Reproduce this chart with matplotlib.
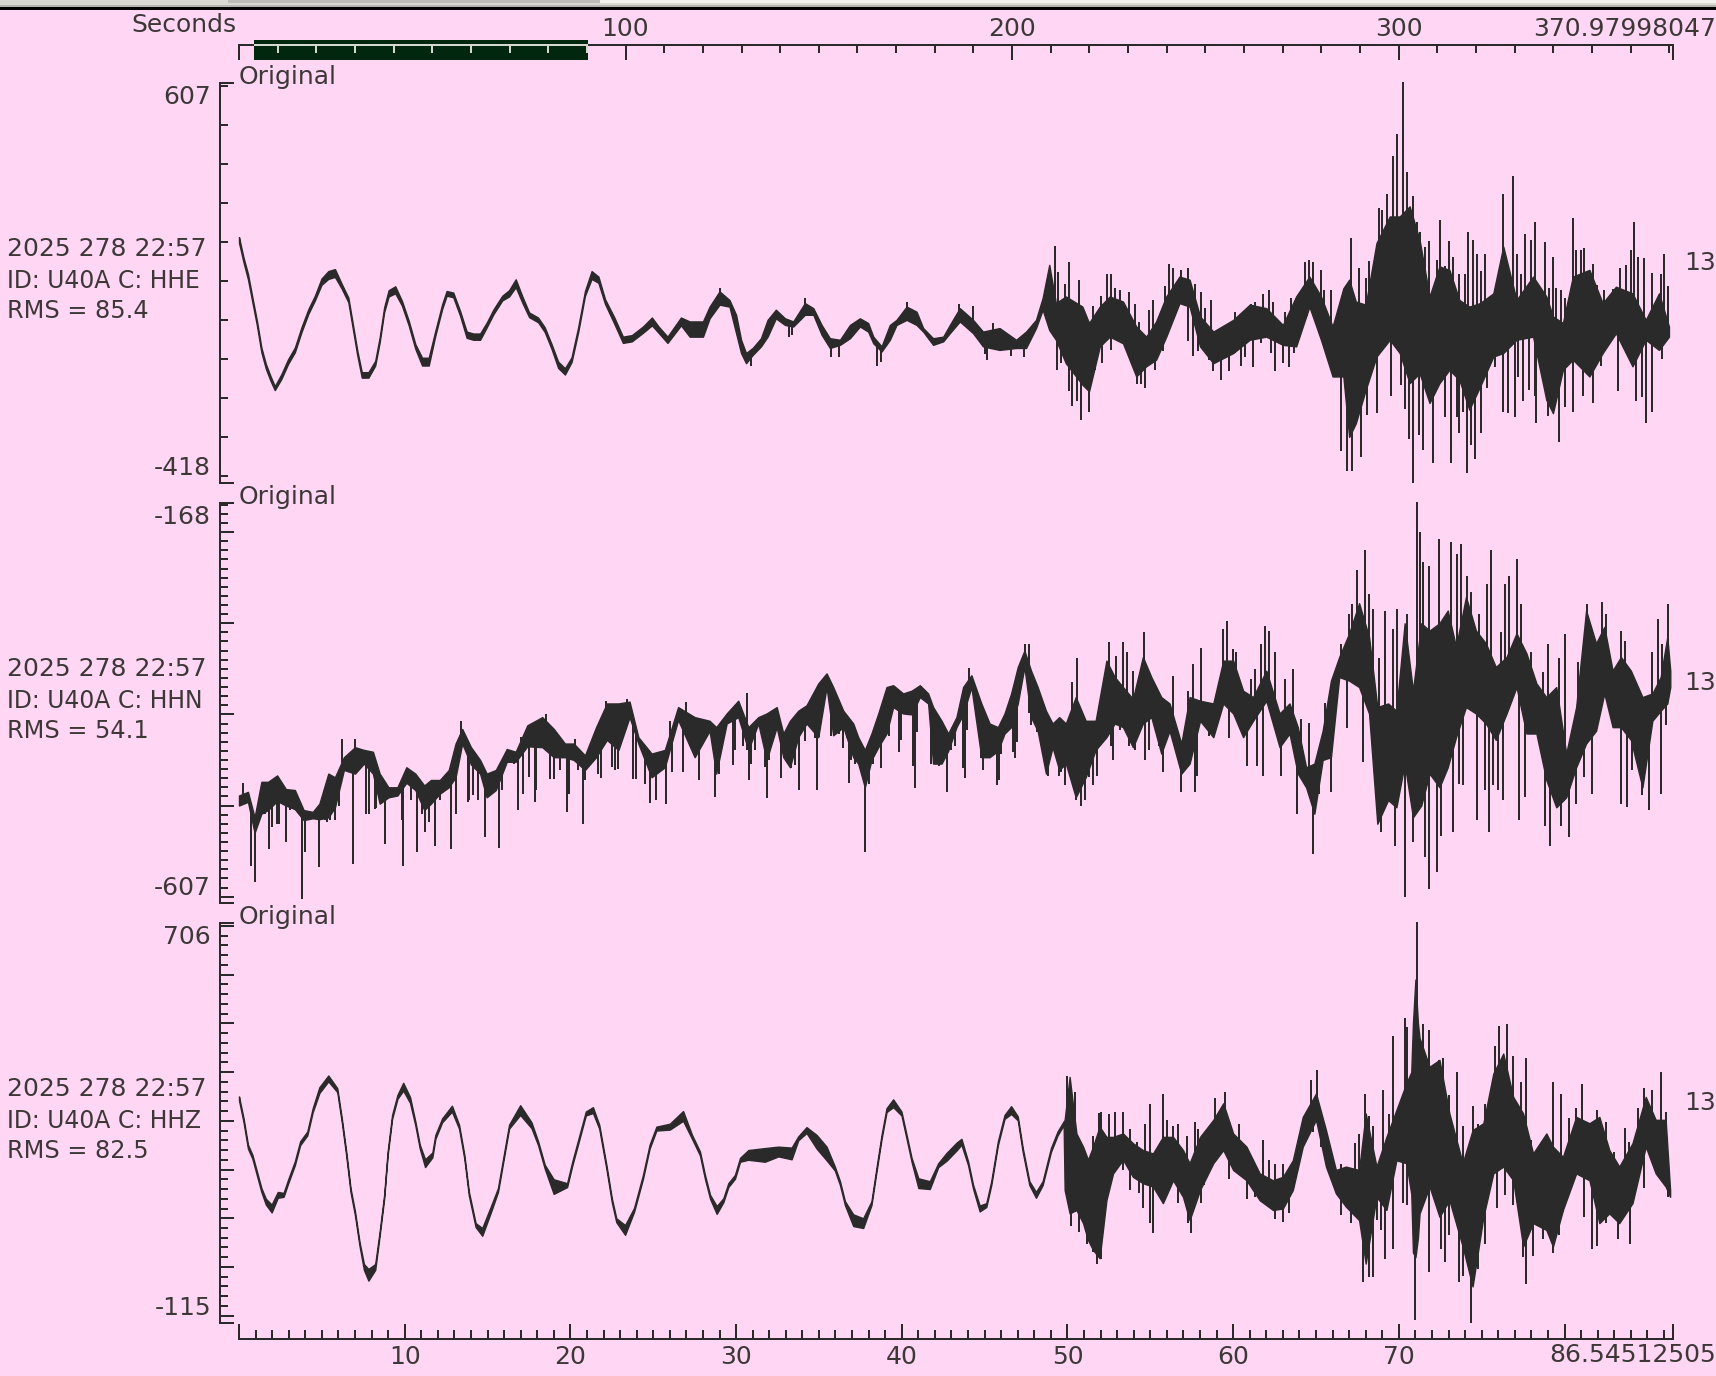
import matplotlib
matplotlib.use("Agg")
import matplotlib.pyplot as plt
from matplotlib.patches import Rectangle
import numpy as np

W, H = 1716, 1376
PINK = "#ffd6f3"
INK = "#2a2a2a"
TXT = "#3c3838"
GREEN = "#02270f"
PALE = "#d5d8d0"

# traces: (seconds, lower edge, upper edge) of the solid band
hhe_band = [(0, 198, 212), (.27, 148, 160), (.54, 104, 118), (.81, 45, 57), (1.08, -14, -2), (1.35, -83, -71),
    (1.62, -125, -113), (1.89, -155, -143), (2.16, -180, -170), (2.56, -151, -139), (2.96, -113, -101), (3.37, -83, -71),
    (3.77, -31, -19), (4.18, 15, 27), (4.58, 50, 62), (4.98, 90, 106), (5.39, 105, 125), (5.79, 110, 130), (6.2, 80, 92),
    (6.6, 45, 57), (6.87, -23, -11), (7.14, -91, -79), (7.41, -148, -134), (7.81, -148, -134), (8.22, -117, -105),
    (8.49, -57, -45), (8.76, 20, 32), (9.03, 60, 76), (9.43, 68, 86), (9.83, 37, 49), (10.24, -14, -2), (10.64, -74, -62),
    (11.05, -117, -97), (11.45, -117, -97), (11.85, -40, -28), (12.26, 28, 40), (12.53, 62, 74), (12.93, 58, 70),
    (13.34, 11, 23), (13.74, -46, -30), (14.14, -51, -35), (14.55, -51, -35), (14.95, -19, -7), (15.36, 15, 27),
    (15.89, 50, 62), (16.3, 60, 76), (16.7, 84, 104), (17.11, 43, 59), (17.51, 7, 19), (18.05, -6, 6), (18.45, -31, -19),
    (18.86, -74, -62), (19.26, -123, -107), (19.67, -140, -124), (20.07, -108, -96), (20.47, -31, -19), (20.88, 62, 74),
    (21.28, 105, 125), (21.69, 95, 111), (22.09, 41, 53), (22.63, -8, 8), (23.17, -59, -43), (23.71, -55, -39),
    (24.38, -33, -17), (24.92, -14, 6), (25.32, -33, -17), (25.86, -59, -43), (26.67, -14, 6), (27.2, -43, -4),
    (28.0, -43, -4), (28.4, 4, 34), (29.0, 39, 73), (29.6, 34, 51), (30.0, -34, 13), (30.3, -85, -51), (30.6, -111, -85),
    (31.0, -90, -72), (31.5, -68, -47), (31.9, -43, 0), (32.4, 4, 26), (32.95, -13, 4), (33.45, -17, -4), (34.15, 13, 43),
    (34.66, 13, 30), (35.16, -38, -13), (35.66, -72, -47), (36.27, -64, -51), (36.87, -47, -13), (37.47, -17, 4),
    (37.97, -30, -8), (38.28, -60, -43), (38.78, -81, -68), (39.28, -51, -13), (39.68, -13, 0), (40.29, 0, 34),
    (40.89, -13, 21), (41.29, -30, -21), (41.89, -64, -47), (42.5, -55, -43), (42.9, -34, -13), (43.5, -4, 30),
    (44.3, -34, 0), (44.9, -68, -30), (45.9, -77, -21), (46.9, -72, -51), (47.5, -72, -30), (48.1, -21, 0), (48.5, 26, 56),
    (48.9, -26, 141), (49.3, -51, 43), (49.9, -111, 60), (50.9, -166, 34), (51.3, -183, -8), (51.95, -68, 34),
    (52.55, -43, 60), (53.35, -60, 47), (54.15, -145, -17), (54.75, -119, -43), (55.35, -102, -4), (55.96, -43, 60),
    (56.76, 43, 111), (57.37, 34, 103), (58.0, -68, 9), (58.8, -111, -30), (60.0, -85, 0), (61.0, -51, 39), (62.0, -43, 30),
    (63.0, -64, -13), (63.8, -68, 60), (64.6, 34, 111), (65.3, -51, 60), (66.0, -145, -17), (66.65, -145, 81),
    (67.0, -300, 103), (67.4, -265, 47), (68.0, -179, 39), (68.65, -94, 197), (69.45, -51, 265), (70.05, -85, 265),
    (70.65, -162, 291), (71.25, -137, 205), (71.85, -213, 60), (72.45, -162, 137), (73.05, -128, 128), (73.65, -154, 51),
    (74.25, -230, 34), (74.9, -171, 43), (75.7, -94, 68), (76.3, -85, 188), (77.1, -51, 51), (78.1, -43, 111),
    (78.9, -205, 60), (79.3, -239, 9), (79.9, -128, -8), (80.5, -102, 111), (81.5, -145, 128), (82.3, -85, 43),
    (83.1, -34, 85), (84.1, -119, 68), (84.9, -51, 0), (85.7, -77, 68), (86.3, -43, -17)]

# single spikes standing out of the band: (seconds, value)
hhe_spikes = [(29.0, 81), (33.2, -45), (33.4, -40), (30.9, -118), (34.15, 56), (35.7, -96), (36.2, -96), (38.5, -118),
    (38.74, -107), (40.3, 46), (43.44, 41), (44.3, 36), (45.0, -87), (45.13, -102), (45.5, -7), (46.58, -92), (47.4, -96),
    (49.23, 190), (49.45, 123), (49.83, 92), (50.07, 149), (50.68, 103), (51.52, 36), (52.0, 62), (52.36, 118), (52.6, 118),
    (52.85, 82), (53.2, 77), (53.7, 72), (54.05, 41), (54.3, -5), (54.9, 26), (55.15, 51), (55.87, 87), (56.1, 144),
    (56.35, 133), (56.83, 128), (57.3, 133), (57.67, 92), (58.03, 72), (49.35, -128), (49.6, -111), (50.07, -183),
    (50.3, -220), (50.55, -209), (50.8, -256), (51.28, -235), (51.64, -128), (52.1, -111), (52.6, -77), (52.97, -51),
    (53.33, -55), (54.17, -164), (54.42, -164), (54.65, -174), (55.26, -128), (55.74, -81), (57.3, -55), (57.55, -92),
    (57.9, -81), (58.27, -81), (67.1, 209), (67.6, 133), (68.0, 107), (68.2, 150), (68.8, 286), (69.0, 282), (69.27, 323),
    (69.63, 420), (69.87, 477), (70.23, 610), (70.47, 379), (70.83, 318), (71.07, 251), (71.3, 226), (71.55, 188),
    (71.8, 201), (72.28, 154), (72.5, 256), (73.0, 201), (72.76, 138), (73.25, 160), (73.6, 118), (73.97, 118), (74.2, 226),
    (74.45, 205), (74.7, 169), (75.2, 169), (74.93, 124), (76.26, 323), (76.86, 369), (77.1, 169), (77.35, 118), (77.6, 220),
    (77.95, 205), (78.2, 251), (78.8, 200), (79.28, 160), (79.05, 81), (79.5, 81), (79.76, 77), (80.0, 56), (80.48, 261),
    (80.72, 180), (80.97, 180), (81.2, 184), (81.7, 144), (81.93, 90), (82.4, 77), (82.9, 79), (83.37, 133), (83.73, 141),
    (84.0, 180), (84.2, 251), (84.46, 162), (84.8, 158), (85.3, 120), (85.8, 118), (86.03, 169), (86.27, 87),
    (58.77, -132), (59.25, -154), (59.74, -132), (60.46, -117), (61.2, -122), (62.5, -132), (63.36, -122), (63.7, -85),
    (66.5, -337), (66.86, -388), (67.2, -388), (67.7, -352), (68.06, -245), (68.67, -239), (69.5, -194), (70.1, -168),
    (70.35, -229), (70.6, -306), (70.84, -418), (71.2, -294), (71.44, -333), (71.68, -188), (72.04, -367), (72.76, -249),
    (73.13, -367), (73.5, -249), (73.6, -290), (73.85, -235), (74.1, -393), (74.33, -320), (74.57, -357), (74.93, -290),
    (75.3, -175), (75.78, -122), (76.26, -235), (76.6, -239), (77.0, -249), (77.2, -147), (77.47, -209), (77.83, -179),
    (78.3, -265), (78.2, -196), (79.03, -247), (79.64, -312), (80.0, -224), (80.48, -235), (81.1, -194), (81.7, -213),
    (82.17, -117), (83.25, -183), (84.34, -209), (84.7, -198), (84.94, -265), (85.3, -235), (85.9, -101),
    (58.3, 30), (58.65, 51), (60.1, 20), (60.46, 13), (61.07, 41), (61.3, 45), (61.8, 66), (62.15, 77), (62.4, 45), (63.1, 20),
    (63.48, 56), (64.32, 148), (64.56, 154), (64.8, 148), (65.28, 128), (65.5, 77), (65.9, 77), (66.37, 30), (58.27, -81),
    (58.53, -102), (60.1, -85), (60.7, -94), (61.67, -60), (62.27, -85), (63.0, -111), (64.2, -17), (64.44, 9), (64.68, 30),
    (65.4, -55), (65.65, -68), (66.25, -145)]

hhn_band = [(0, -500, -489), (.54, -496, -485), (.94, -530, -513), (1.35, -509, -474), (1.75, -505, -474), (2.3, -495, -467),
    (2.83, -500, -482), (3.37, -504, -483), (3.9, -516, -505), (4.45, -514, -507), (4.85, -515, -498), (5.39, -513, -465),
    (5.79, -502, -469), (6.33, -461, -447), (7.0, -465, -436), (7.54, -454, -439), (8.08, -465, -441), (8.49, -498, -465),
    (9.02, -491, -480), (9.56, -489, -480), (10.1, -475, -458), (10.64, -483, -465), (11.18, -505, -478), (11.58, -498, -472),
    (12.12, -487, -472), (12.66, -480, -461), (13.07, -469, -432), (13.47, -432, -416), (14.0, -455, -436), (14.55, -465, -450),
    (14.95, -491, -465), (15.5, -483, -461), (16.16, -452, -438), (16.7, -452, -441), (17.4, -435, -412), (18.3, -436, -403),
    (19.0, -447, -416), (19.67, -447, -432), (20.2, -450, -432), (20.88, -461, -445), (21.55, -447, -414), (22.2, -428, -388),
    (22.9, -439, -388), (23.57, -403, -386), (24.1, -432, -425), (24.9, -469, -443), (25.7, -458, -439), (26.5, -406, -392),
    (27.5, -447, -403), (28.4, -418, -407), (28.8, -465, -414), (29.43, -410, -399), (30.13, -403, -385), (30.74, -439, -414),
    (31.34, -410, -403), (31.84, -450, -399), (32.45, -414, -392), (32.85, -447, -421), (33.25, -458, -407), (33.75, -425, -396),
    (34.25, -410, -390), (34.96, -425, -366), (35.46, -370, -355), (35.86, -423, -370), (36.47, -414, -396), (37.07, -447, -410),
    (37.37, -454, -425), (37.77, -480, -439), (38.17, -450, -421), (38.58, -436, -399), (39.08, -421, -370), (39.48, -392, -368),
    (40.08, -399, -377), (40.59, -400, -374), (41.09, -381, -368), (41.59, -388, -377), (41.89, -454, -392), (42.4, -454, -407),
    (42.8, -440, -421), (43.3, -414, -403), (43.7, -400, -370), (44.2, -370, -357), (44.8, -447, -388), (45.3, -447, -410),
    (45.8, -440, -414), (46.2, -421, -399), (46.6, -414, -377), (47.0, -388, -348), (47.4, -348, -330), (47.8, -403, -352),
    (48.2, -418, -370), (48.7, -465, -396), (49.1, -436, -410), (49.5, -461, -403), (49.9, -454, -410), (50.5, -491, -381),
    (51.1, -469, -407), (51.7, -439, -407), (52.35, -425, -341), (52.85, -410, -359), (53.35, -414, -370), (53.95, -436, -383),
    (54.55, -410, -337), (55.06, -403, -359), (55.66, -443, -381), (56.16, -418, -388), (56.87, -465, -432), (57.37, -454, -381),
    (58.0, -407, -385), (58.8, -425, -388), (59.4, -388, -341), (60.0, -399, -341), (60.6, -425, -374), (61.2, -407, -381),
    (62.0, -385, -352), (62.8, -436, -399), (63.4, -421, -388), (63.9, -465, -414), (64.4, -480, -458), (64.9, -509, -454),
    (65.4, -450, -418), (65.9, -447, -363), (66.4, -359, -337), (67.0, -363, -311), (67.6, -370, -278), (68.2, -399, -315),
    (68.7, -520, -392), (69.35, -494, -388), (69.85, -502, -396), (70.35, -454, -300), (70.85, -513, -374), (71.35, -500, -300),
    (71.85, -465, -308), (72.45, -480, -300), (72.95, -458, -286), (73.45, -425, -326), (74.05, -392, -271), (74.65, -399, -308),
    (75.25, -410, -322), (75.85, -428, -348), (76.5, -399, -337), (77.1, -370, -311), (77.7, -421, -333), (78.3, -421, -366),
    (78.9, -472, -381), (79.5, -502, -370), (80.1, -491, -443), (80.7, -458, -392), (81.3, -432, -286), (81.9, -418, -322),
    (82.4, -377, -304), (82.9, -414, -352), (83.4, -414, -337), (84.0, -428, -352), (84.7, -480, -381), (85.3, -407, -377),
    (85.8, -396, -359), (86.2, -388, -315), (86.38, -370, -352)]

hhn_spikes = [(.73, -566), (.97, -584), (1.8, -548), (2.3, -520), (2.83, -540), (3.83, -603), (3.99, -551), (4.82, -568),
    (5.3, -518), (5.79, -516), (6.87, -564), (7.84, -509), (8.24, -503), (8.81, -542), (9.89, -566), (10.75, -551),
    (11.23, -529), (11.83, -544), (12.8, -548), (13.8, -496), (14.14, -489), (14.84, -535), (15.7, -547), (16.84, -505),
    (17.16, -487), (17.86, -496), (18.78, -471), (19.8, -507), (20.77, -520), (21.82, -470), (22.7, -461), (23.8, -471),
    (24.8, -497), (25.8, -498), (26.8, -463), (.27, -475), (6.2, -427), (7.0, -427), (13.4, -407), (17.0, -425), (18.5, -400),
    (20.3, -427), (22.15, -385), (23.44, -383), (27.0, -386), (26.0, -407), (30.66, -376), (47.42, -323), (47.66, -323),
    (44.04, -349), (50.56, -338), (50.3, -365), (52.5, -321), (52.93, -336), (53.33, -321), (53.57, -332), (53.93, -352),
    (54.6, -310), (56.35, -358), (57.3, -374), (57.55, -345), (58.03, -327), (27.76, -472), (28.73, -491), (29.8, -455),
    (30.78, -472), (31.86, -492), (32.7, -470), (33.3, -459), (33.8, -483), (34.88, -483), (36.8, -475), (37.77, -551),
    (38.0, -476), (38.74, -459), (40.79, -481), (41.75, -454), (42.72, -485), (43.8, -470), (44.9, -461), (45.73, -477),
    (48.83, -468), (49.83, -477), (50.5, -494), (50.8, -501), (51.04, -494), (51.52, -477), (51.76, -468), (52.73, -450),
    (54.05, -439), (54.65, -450), (55.74, -463), (56.83, -485), (57.67, -485), (58.05, -328), (59.38, -306), (59.62, -297),
    (59.98, -328), (60.2, -332), (61.07, -361), (61.3, -350), (61.67, -323), (61.9, -303), (62.15, -308), (62.5, -332),
    (63.1, -361), (63.6, -350), (64.08, -405), (64.57, -409), (65.53, -387), (66.49, -323), (66.97, -290), (67.2, -279),
    (67.46, -242), (67.94, -220), (68.18, -268), (68.42, -284), (68.78, -338), (69.15, -286), (69.63, -306), (69.87, -284),
    (70.47, -290), (71.07, -167), (71.3, -200), (71.44, -233), (71.8, -237), (72.4, -207), (73.13, -211), (73.5, -224),
    (73.73, -213), (74.09, -248), (74.33, -266), (74.81, -290), (75.3, -257), (75.54, -220), (76.14, -310), (76.38, -257),
    (76.62, -248), (77.1, -229), (77.35, -279), (77.95, -332), (78.67, -354), (79.03, -323), (79.64, -338), (80.0, -312),
    (80.84, -343), (81.33, -279), (82.29, -277), (82.53, -290), (83.38, -308), (83.62, -319), (85.3, -332), (85.67, -295),
    (85.91, -323), (86.27, -279), (58.53, -424), (59.74, -426), (60.82, -457), (61.43, -457), (61.8, -468), (62.87, -468),
    (63.84, -509), (64.8, -553), (65.17, -487), (65.89, -485), (66.85, -415), (67.82, -452), (68.9, -529), (69.75, -544),
    (70.35, -600), (70.83, -540), (71.56, -557), (71.8, -592), (72.28, -573), (72.52, -533), (73.25, -529), (73.6, -476),
    (73.85, -478), (74.69, -516), (75.18, -483), (75.42, -529), (75.66, -478), (76.0, -483), (76.26, -494), (77.23, -516),
    (77.6, -491), (78.8, -522), (79.15, -544), (79.76, -522), (80.24, -535), (80.72, -498), (81.2, -469), (81.68, -487),
    (83.38, -498), (83.74, -502), (84.1, -461), (84.7, -489), (85.07, -505), (85.8, -487), (86.15, -412),
    (1.21, -494), (1.54, -509), (2.02, -524), (2.42, -520), (3.1, -505), (3.5, -505), (4.18, -516), (4.58, -514), (5.2, -516),
    (5.52, -516), (6.06, -500), (7.68, -509), (8.22, -504), (8.62, -489), (9.29, -487), (9.83, -516), (10.37, -494), (11.05, -509),
    (11.45, -518), (12.12, -494), (12.47, -483), (13.07, -509), (13.87, -494), (14.41, -494), (15.09, -487), (15.89, -483),
    (16.57, -454), (17.51, -469), (17.92, -483), (19.0, -471), (19.4, -461), (19.94, -487), (20.47, -461), (20.88, -472),
    (21.69, -465), (22.5, -458), (22.9, -460), (23.98, -471), (24.5, -476), (25.19, -494), (26.13, -463), (27.52, -447),
    (28.97, -465), (29.93, -439), (30.42, -435), (30.66, -439), (30.9, -454), (31.14, -439), (31.74, -458), (31.98, -450),
    (32.95, -447), (33.55, -456), (34.15, -429), (34.76, -426), (35.0, -425), (35.72, -424), (36.2, -421), (36.45, -437),
    (36.69, -426), (36.93, -450), (37.17, -454), (37.53, -457), (38.25, -454), (38.5, -437), (39.22, -424), (39.82, -441),
    (39.94, -428), (40.67, -457), (40.91, -419), (41.99, -452), (42.23, -457), (42.48, -432), (42.96, -439), (43.2, -435),
    (43.68, -459), (43.92, -417), (44.77, -448), (45.13, -448), (45.37, -429), (45.85, -472), (45.97, -443), (46.46, -413),
    (46.7, -441), (46.82, -448), (46.94, -430), (47.66, -399), (47.78, -412), (48.14, -419), (48.99, -439), (49.23, -443),
    (49.47, -468), (49.59, -463), (50.2, -463), (51.28, -469), (52.1, -424), (52.35, -424), (52.6, -435), (53.2, -417),
    (53.69, -435), (54.9, -439), (55.5, -435), (56.22, -419), (56.59, -435), (57.19, -456), (57.8, -468)]

hhz_band = [(0, 342, 350), (.27, 298, 306), (.54, 243, 251), (.81, 222, 230), (1.08, 188, 196), (1.35, 154, 162), (1.62, 128, 140),
    (1.97, 112, 128), (2.34, 142, 154), (2.69, 144, 152), (2.96, 171, 179), (3.37, 209, 217), (3.69, 250, 258), (4.12, 270, 278),
    (4.45, 318, 326), (4.85, 357, 369), (5.39, 381, 393), (5.93, 359, 367), (6.2, 298, 306), (6.47, 229, 237), (6.73, 154, 162),
    (7.0, 106, 114), (7.27, 44, 52), (7.54, -6, 6), (7.81, -28, -4), (8.22, -6, 6), (8.49, 65, 73), (8.76, 140, 148),
    (8.97, 229, 237), (9.24, 304, 312), (9.56, 345, 353), (9.91, 362, 378), (10.32, 337, 349), (10.64, 291, 299), (10.91, 243, 251),
    (11.23, 205, 221), (11.67, 225, 235), (11.85, 263, 271), (12.26, 297, 305), (12.85, 319, 331), (13.28, 284, 292),
    (13.6, 222, 230), (13.87, 147, 155), (14.28, 82, 90), (14.68, 64, 80), (15.22, 114, 126), (15.63, 154, 162), (15.98, 222, 230),
    (16.3, 284, 292), (16.97, 312, 332), (17.65, 285, 297), (18.05, 250, 258), (18.45, 202, 210), (18.99, 150, 180),
    (19.8, 164, 172), (20.12, 209, 217), (20.55, 263, 271), (20.93, 311, 319), (21.36, 316, 328), (21.74, 284, 292),
    (22.17, 202, 210), (22.5, 133, 141), (22.77, 92, 100), (23.3, 66, 86), (23.84, 113, 121), (24.38, 181, 189), (24.78, 243, 251),
    (25.19, 280, 288), (26.0, 282, 294), (26.8, 300, 320), (27.34, 263, 271), (27.82, 229, 237), (28.12, 181, 189), (28.43, 140, 148),
    (28.83, 109, 125), (29.23, 133, 141), (29.53, 164, 172), (29.93, 181, 189), (30.24, 216, 224), (30.74, 220, 240),
    (31.74, 216, 244), (32.55, 227, 247), (33.35, 221, 245), (33.75, 260, 268), (34.25, 275, 287), (34.86, 243, 271),
    (35.46, 219, 247), (35.96, 198, 206), (36.27, 168, 176), (36.57, 127, 135), (37.07, 84, 108), (37.67, 80, 100), (38.17, 127, 135),
    (38.47, 195, 203), (38.78, 263, 271), (39.08, 318, 326), (39.48, 328, 344), (39.98, 311, 319), (40.29, 263, 271),
    (40.59, 216, 224), (41.0, 162, 182), (41.69, 160, 176), (42.2, 205, 213), (42.7, 218, 234), (43.3, 239, 255), (43.6, 251, 263),
    (44.0, 209, 217), (44.3, 161, 169), (44.7, 114, 126), (45.1, 123, 131), (45.4, 168, 176), (45.8, 250, 258), (46.2, 304, 312),
    (46.6, 314, 330), (47.0, 301, 309), (47.3, 236, 244), (47.7, 168, 176), (48.1, 142, 154), (48.5, 168, 176), (49.0, 236, 244),
    (49.4, 270, 278), (49.77, 291, 299), (49.83, 158, 302), (50.13, 110, 390), (50.54, 117, 274), (50.94, 90, 247), (51.24, 55, 220),
    (51.54, 35, 247), (51.94, 18, 288), (52.35, 137, 267), (52.75, 192, 267), (53.35, 220, 274), (53.95, 185, 254), (54.55, 172, 240),
    (55.16, 165, 233), (55.76, 131, 267), (56.37, 178, 267), (56.97, 144, 240), (57.37, 96, 213), (58.0, 158, 267), (58.8, 213, 302),
    (59.4, 240, 336), (60.0, 199, 274), (60.8, 178, 247), (61.6, 137, 192), (62.4, 117, 178), (63.0, 120, 185), (63.6, 158, 219),
    (64.2, 247, 308), (65.0, 302, 356), (65.6, 206, 281), (66.2, 151, 199), (66.8, 124, 206), (67.6, 96, 199), (68.0, 7, 315),
    (68.65, 144, 206), (69.25, 117, 267), (69.85, 219, 322), (70.45, 213, 377), (70.75, 150, 400), (70.85, 30, 500), (71.0, 20, 590),
    (71.15, 60, 500), (71.25, 110, 470), (71.85, 165, 411),
    (72.45, 103, 425), (73.05, 137, 315), (73.85, 42, 213), (74.45, -40, 281), (75.1, 103, 295), (75.7, 192, 397), (76.3, 206, 438),
    (76.9, 178, 349), (77.5, 42, 315), (78.1, 90, 233), (78.9, 76, 274), (79.3, 42, 247), (79.9, 117, 226), (80.7, 192, 308),
    (81.5, 178, 295), (82.1, 90, 308), (82.7, 110, 240), (83.3, 90, 206), (84.1, 131, 254), (84.9, 247, 349), (85.5, 192, 302),
    (86.1, 165, 302), (86.37, 144, 158)]

hhz_spikes = [(49.95, 392), (50.44, 359), (51.52, 269), (51.88, 317), (52.0, 318), (52.5, 314), (52.85, 318), (53.33, 318), (53.8, 284),
    (54.17, 256), (54.65, 293), (55.0, 334), (55.74, 355), (55.98, 302), (56.35, 289), (56.7, 293), (57.2, 269), (57.67, 297),
    (57.9, 284), (58.27, 252), (50.2, 85), (50.68, 72), (51.16, 48), (51.52, 31), (51.76, 7), (52.0, 16), (52.85, 196), (53.33, 199),
    (53.8, 158), (54.3, 151), (54.54, 122), (55.14, 69), (55.0, 90), (55.74, 131), (56.7, 131), (57.43, 69), (57.3, 90), (58.27, 168),
    (58.9, 346), (59.5, 359), (60.34, 293), (61.8, 260), (62.15, 219), (62.5, 211), (63.0, 211), (64.68, 384), (65.05, 404), (66.5, 211),
    (67.33, 254), (67.58, 273), (67.94, 355), (68.18, 310), (68.42, 289), (69.03, 363), (69.39, 314), (69.63, 474), (70.35, 511),
    (70.47, 493), (71.07, 708), (71.44, 499), (71.8, 486), (72.4, 425), (72.64, 429), (73.0, 353), (73.49, 400), (73.85, 289),
    (74.45, 330), (74.8, 293), (75.18, 334), (75.78, 453), (76.02, 494), (76.5, 499), (76.86, 433), (77.35, 380), (77.7, 429),
    (77.95, 260), (78.67, 248), (79.28, 380), (79.76, 355), (80.24, 305), (80.72, 326), (81.08, 375), (81.93, 322), (82.53, 297),
    (83.0, 236), (83.62, 285), (83.86, 256), (84.46, 326), (84.82, 367), (85.3, 363), (85.8, 400), (86.15, 318), (58.05, 131),
    (59.74, 180), (60.83, 139), (61.3, 143), (62.5, 98), (63.0, 93), (63.36, 110), (64.8, 278), (65.3, 247), (66.5, 107), (67.1, 90),
    (67.82, -30), (68.18, -21), (68.42, -21), (68.66, 96), (68.9, 76), (69.15, 16), (69.63, 36), (70.23, 131), (70.47, 127),
    (70.95, -108), (71.8, -10), (72.52, 36), (72.76, 11), (73.0, 65), (73.6, -30), (73.85, -18), (74.33, -116), (74.8, -5), (75.17, 48),
    (75.9, 122), (76.38, 148), (76.86, 127), (77.47, 21), (77.7, -34), (78.07, 23), (78.67, 57), (79.28, 28), (79.64, 65), (79.88, 113),
    (81.2, 102), (81.68, 36), (81.93, 44), (82.53, 90), (83.25, 57), (83.98, 48), (84.82, 163), (86.27, 143)]

channels = ["HHE", "HHN", "HHZ"]
rms_values = ["85.4", "54.1", "82.5"]
y_top = [607, -168, 706]
y_bottom = [-418, -607, -115]
y_minor_step = [100, 10, 20]
y_major_step = [None, 100, 100]
bands = [hhe_band, hhn_band, hhz_band]
spikes = [hhe_spikes, hhn_spikes, hhz_spikes]
panel_tops = [83, 503, 923]

seconds_total = 370.97998047
seconds_window = 86.54512505
window_start = 4.0
window_end = 90.2
top_ticks = [100, 200, 300]
bottom_ticks = [10, 20, 30, 40, 50, 60, 70, 80]
bottom_labels = ["10", "20", "30", "40", "50", "60", "70", ""]

LEFT, RIGHT = 239, 1673


def px_box(x0, y0, x1, y1):
    return [x0 / W, 1 - y1 / H, (x1 - x0) / W, (y1 - y0) / H]


def px(n):
    return n * 72 / 100


fig = plt.figure(figsize=(W / 100, H / 100), dpi=100, facecolor=PINK)
plt.rcParams["font.family"] = "DejaVu Sans"
FS = 18

# window frame strip at the very top
fig.patches.append(Rectangle((0, 1 - 7 / H), 1, 7 / H, transform=fig.transFigure, color="#d9d8d3", lw=0))
fig.patches.append(Rectangle((0, 1 - 7 / H), 1, 2 / H, transform=fig.transFigure, color="#b5b4ae", lw=0))
fig.patches.append(Rectangle((0, 1 - 10 / H), 1, 3 / H, transform=fig.transFigure, color="black", lw=0))
fig.patches.append(Rectangle((228 / W, 1 - 3 / H), 372 / W, 3 / H, transform=fig.transFigure, color="#bdbcb6", lw=0))
fig.patches.append(Rectangle((600 / W, 1 - 3 / H), 1116 / W, 3 / H, transform=fig.transFigure, color="#f2f2ee", lw=0))

for i, ch in enumerate(channels):
    top = panel_tops[i]
    ax = fig.add_axes(px_box(LEFT, top, RIGHT, top + 400))
    ax.patch.set_alpha(0)
    ax.set_xlim(0, seconds_window)
    ax.set_ylim(y_bottom[i], y_top[i])
    for s in ["top", "right", "bottom"]:
        ax.spines[s].set_visible(False)
    ax.spines["left"].set_position(("outward", px(19)))
    ax.spines["left"].set_linewidth(px(2))
    ax.spines["left"].set_color(INK)
    ax.xaxis.set_visible(False)

    lo_v, hi_v = y_bottom[i], y_top[i]
    step = y_minor_step[i]
    minor = np.arange(np.ceil(lo_v / step) * step, hi_v + 1, step)
    if y_major_step[i]:
        big = np.arange(np.ceil(lo_v / y_major_step[i]) * y_major_step[i], hi_v + 1, y_major_step[i])
    else:
        big = np.array([])
    major = sorted(set([lo_v, hi_v]) | set(big.tolist()))
    ax.set_yticks(major)
    ax.set_yticklabels([])
    ax.set_yticks(minor, minor=True)
    ax.tick_params(axis="y", which="major", direction="in", length=px(14), width=px(2), color=INK)
    ax.tick_params(axis="y", which="minor", direction="in", length=px(8), width=px(2), color=INK)

    band = np.array(bands[i])
    spike = np.array(spikes[i])
    ax.fill_between(band[:, 0], band[:, 1], band[:, 2], color=INK, lw=px(1.4), antialiased=False, clip_on=False)
    mid = np.interp(spike[:, 0], band[:, 0], (band[:, 1] + band[:, 2]) / 2)
    ax.vlines(spike[:, 0], mid, spike[:, 1], color=INK, lw=px(2), antialiased=False, clip_on=False)

    # end labels and the text block left of each trace
    fig.text(211 / W, 1 - (top + 14) / H, str(y_top[i]), ha="right", va="center", fontsize=FS, color=TXT)
    fig.text(211 / W, 1 - (top + 385) / H, str(y_bottom[i]), ha="right", va="center", fontsize=FS, color=TXT)
    fig.text(239 / W, 1 - (top + 1) / H, "Original", ha="left", va="baseline", fontsize=FS, color=TXT)
    fig.text(7 / W, 1 - (top + 173) / H, "2025 278 22:57", ha="left", va="baseline", fontsize=FS, color=TXT)
    fig.text(7 / W, 1 - (top + 205) / H, "ID: U40A C: " + ch, ha="left", va="baseline", fontsize=FS - 1.05, color=TXT)
    fig.text(7 / W, 1 - (top + 235) / H, "RMS = " + rms_values[i], ha="left", va="baseline", fontsize=FS - 0.7, color=TXT)
    fig.text(1684 / W, 1 - (top + 187) / H, "13", ha="left", va="baseline", fontsize=FS, color=TXT)

# overview axis on top
ax_top = fig.add_axes(px_box(LEFT, 45, RIGHT, 60))
ax_top.patch.set_alpha(0)
ax_top.set_xlim(0, seconds_total)
ax_top.set_ylim(0, 1)
ax_top.yaxis.set_visible(False)
for s in ["left", "right", "bottom"]:
    ax_top.spines[s].set_visible(False)
ax_top.spines["top"].set_linewidth(px(2))
ax_top.spines["top"].set_color(INK)
ax_top.xaxis.tick_top()
ax_top.set_xticks([0] + top_ticks + [seconds_total])
ax_top.set_xticklabels([""] + [str(v) for v in top_ticks] + [""])
ax_top.set_xticks(np.arange(10, seconds_total, 10), minor=True)
ax_top.tick_params(axis="x", which="major", direction="in", length=px(15), width=px(2), color=INK,
                   labelsize=FS, labelcolor=TXT, pad=px(4))
ax_top.tick_params(axis="x", which="minor", direction="in", length=px(8), width=px(2), color=INK)
ax_top.add_patch(Rectangle((window_start, 0), window_end - window_start, 20 / 15, color=GREEN, lw=0, clip_on=False, zorder=5))
ax_top.hlines(1, window_start, window_end, color=PALE, lw=px(2), zorder=6, clip_on=False)
ax_top.vlines(np.arange(10, 100, 10), 1 - 8 / 15, 1, color=PALE, lw=px(2), zorder=6)
fig.text(237 / W, 1 - 32 / H, "Seconds", ha="right", va="baseline", fontsize=FS, color=TXT)
fig.text(1, 1 - 36 / H, "370.97998047", ha="right", va="baseline", fontsize=FS, color=TXT)

# time axis under the last trace
ax_bot = fig.add_axes(px_box(LEFT, 1324, RIGHT, 1339))
ax_bot.patch.set_alpha(0)
ax_bot.set_xlim(0, seconds_window)
ax_bot.set_ylim(0, 1)
ax_bot.yaxis.set_visible(False)
for s in ["left", "right", "top"]:
    ax_bot.spines[s].set_visible(False)
ax_bot.spines["bottom"].set_linewidth(px(2))
ax_bot.spines["bottom"].set_color(INK)
ax_bot.set_xticks([0] + bottom_ticks + [seconds_window])
ax_bot.set_xticklabels([""] + bottom_labels + [""])
ax_bot.set_xticks(np.arange(1, seconds_window, 1), minor=True)
ax_bot.tick_params(axis="x", which="major", direction="in", length=px(15), width=px(2), color=INK,
                   labelsize=FS, labelcolor=TXT, pad=px(6))
ax_bot.tick_params(axis="x", which="minor", direction="in", length=px(9), width=px(2), color=INK)
fig.text(1, 1 - 1362 / H, "86.54512505", ha="right", va="baseline", fontsize=FS, color=TXT)

fig.savefig("out.png", dpi=100, facecolor=PINK)
